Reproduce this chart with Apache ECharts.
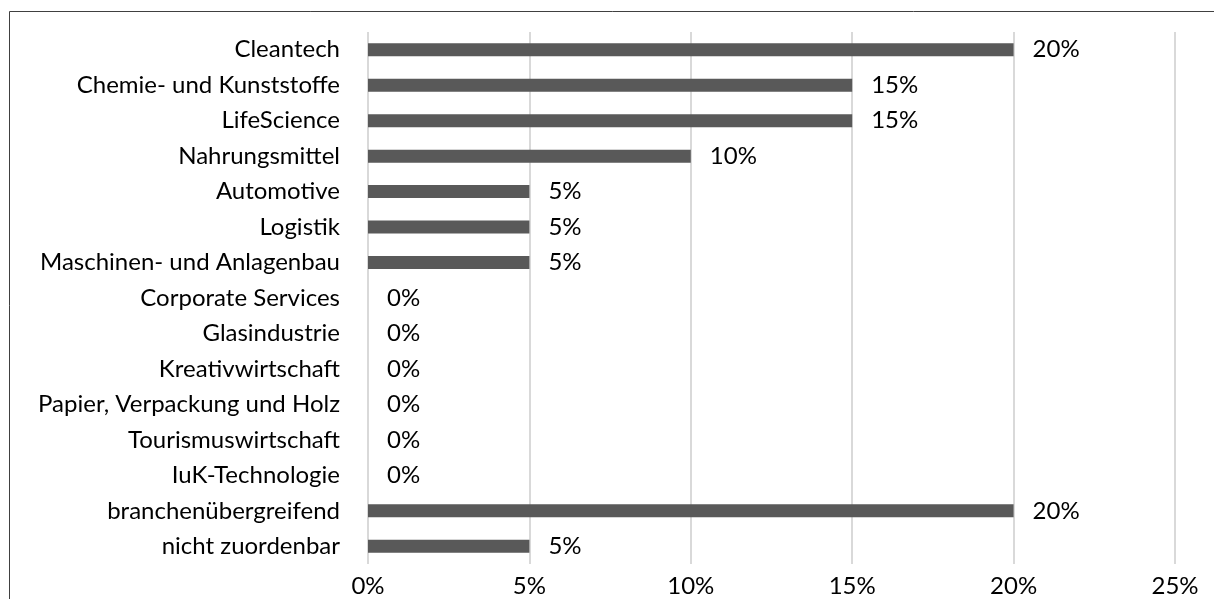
<!DOCTYPE html>
<html>
<head>
<meta charset="utf-8">
<script src="https://cdn.jsdelivr.net/npm/echarts@6/dist/echarts.min.js"></script>
<style>
  html, body { margin: 0; padding: 0; background: #fff; }
  #chart { width: 1214px; height: 599px; }
</style>
</head>
<body>
<div id="chart"></div>
<script>
// Branchen, von oben nach unten
const categories = [
  'Cleantech',
  'Chemie- und Kunststoffe',
  'LifeScience',
  'Nahrungsmittel',
  'Automotive',
  'Logistik',
  'Maschinen- und Anlagenbau',
  'Corporate Services',
  'Glasindustrie',
  'Kreativwirtschaft',
  'Papier, Verpackung und Holz',
  'Tourismuswirtschaft',
  'IuK-Technologie',
  'branchenübergreifend',
  'nicht zuordenbar'
];

// Anteil in Prozent
const shares = [20, 15, 15, 10, 5, 5, 5, 0, 0, 0, 0, 0, 0, 20, 5];

// Achsenbereich in Prozent
const axisMin = 0;
const axisMax = 25;
const axisStep = 5;

const FONT = 'Lato, "Open Sans", sans-serif';

const chart = echarts.init(document.getElementById('chart'), null, { renderer: 'canvas' });

chart.setOption({
  animation: false,
  backgroundColor: '#ffffff',
  grid: { left: 368, right: 39, top: 32, bottom: 35, containLabel: false },
  graphic: [{
    type: 'rect',
    silent: true,
    shape: { x: 9.5, y: 11.5, width: 1230, height: 620 },
    style: { fill: 'none', stroke: '#404040', lineWidth: 1 }
  }],
  xAxis: {
    type: 'value',
    min: axisMin,
    max: axisMax,
    interval: axisStep,
    axisLine: { show: false },
    axisTick: { show: false },
    axisLabel: {
      formatter: '{value}%',
      color: '#000',
      fontFamily: FONT,
      fontSize: 24,
      margin: 10
    },
    splitLine: { show: true, lineStyle: { color: '#d9d9d9', width: 2 } }
  },
  yAxis: {
    type: 'category',
    inverse: true,
    data: categories,
    axisLine: { show: false },
    axisTick: { show: false },
    axisLabel: {
      color: '#000',
      fontFamily: FONT,
      fontSize: 24,
      margin: 28
    }
  },
  series: [{
    type: 'bar',
    data: shares,
    barWidth: 13,
    itemStyle: { color: '#595959' },
    label: {
      show: true,
      position: 'right',
      distance: 19,
      formatter: '{c}%',
      color: '#000',
      fontFamily: FONT,
      fontSize: 24
    }
  }]
});
</script>
</body>
</html>
